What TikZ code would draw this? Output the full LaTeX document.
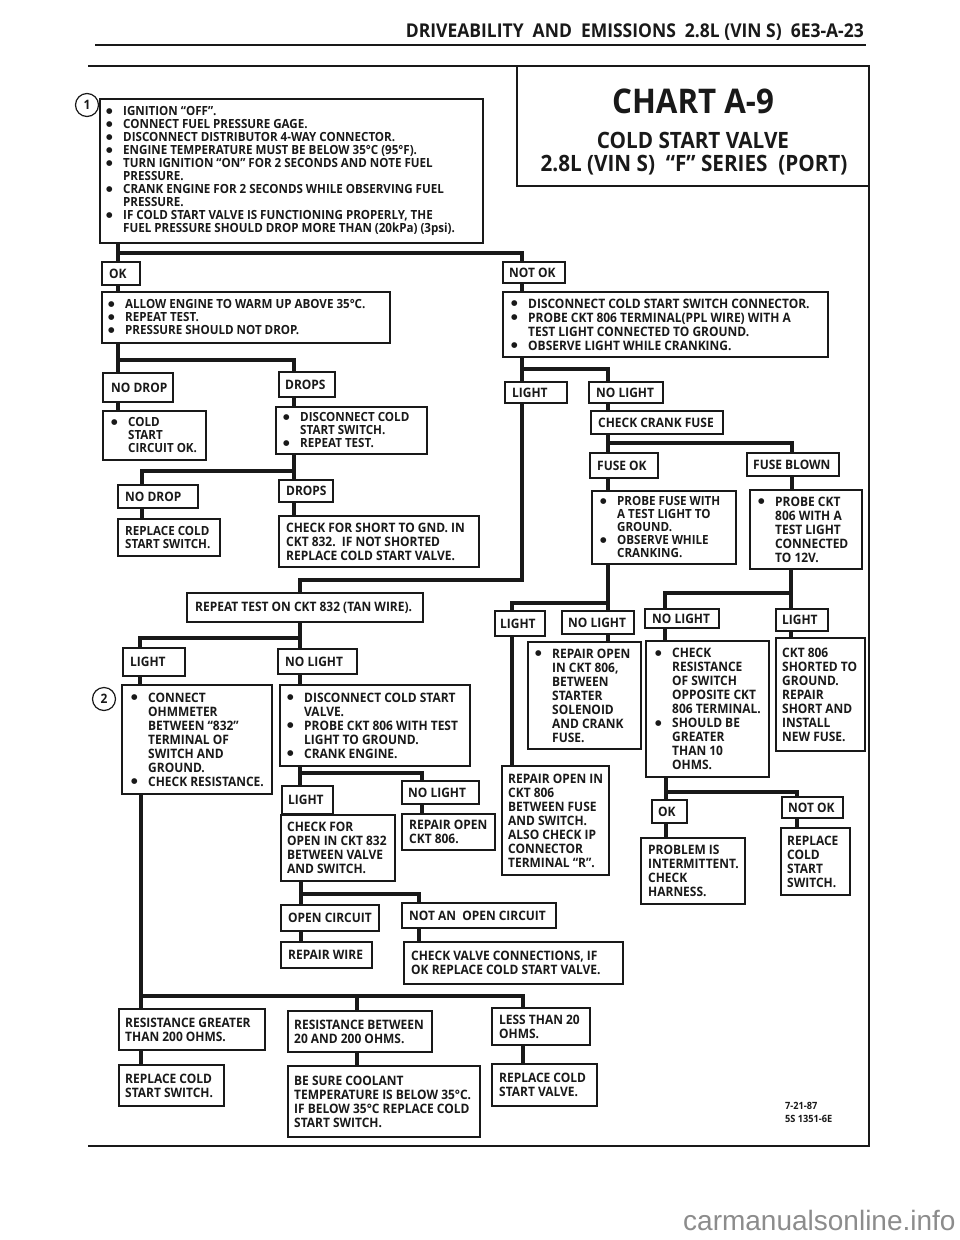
\documentclass[tikz,border=0pt]{standalone}
\usepackage{fontspec}
\setmainfont{Open Sans}[FakeStretch=0.92]
\newfontfamily\wmfont{Liberation Sans}
\newfontfamily\dvfont{DejaVu Sans}
\definecolor{ink}{gray}{0.1}
\newcommand\bl{\makebox[17pt][l]{\raisebox{2.2pt}{\dvfont\fontsize{7.5}{8}\selectfont ●}}}
\newcommand\ct{\hspace*{17pt}}
\tikzset{
  box/.style={draw=ink,line width=1.3pt,rectangle,inner sep=0pt,outer sep=0pt},
  txt/.style={inner sep=0pt,align=left,text=ink,font=\fontsize{13}{14}\selectfont\bfseries},
  tight/.style={font=\fontsize{12.6}{13}\selectfont\bfseries},
  conn/.style={draw=ink,line width=3.4pt,line join=miter},
  frame/.style={draw=ink,line width=2pt},
  circ/.style={draw=ink,circle,line width=1.2pt,minimum size=23pt,inner sep=0pt,text=ink,font=\fontsize{13}{14}\selectfont\bfseries}
}
% [style]{name}{x1}{y1}{x2}{y2}{pad}{text}
\newcommand\BX[8][]{%
  \node[box,minimum width={#5-#3},minimum height={#6-#4}] (#2) at ({(#3+#5)/2},{(#4+#6)/2}) {};
  \node[txt,#1,anchor=west] (#2-t) at ([xshift=#7pt]#2.west) {#8};}
\newcommand\cV[3]{\draw[conn] (#1.south -| #3,0) -- (#2.north -| #3,0);}
\newcommand\cB[5]{\draw[conn] (#1.south -| #2,0) |- (#5,#3) -- (#4.north -| #5,0);}
\begin{document}
\begin{tikzpicture}[x=1pt,y=-1pt]
\useasboundingbox (0,0) rectangle (960,1240);
\fill[white] (0,0) rectangle (960,1240);

% header
\node[anchor=base east,inner sep=0pt,text=ink,font=\fontsize{19}{20}\selectfont\bfseries] (hdr) at (864,37)
  {DRIVEABILITY\ \ AND\ \ EMISSIONS\ \ 2.8L (VIN S)\ \ 6E3-A-23};
\draw[ink,line width=2pt] (95,45) -- (866,45);

% frame and title box
\draw[frame] (88,66) -- (869,66) -- (869,1146) -- (88,1146);
\draw[frame] (517,66) -- (517,186) -- (869,186);
\node[inner sep=0pt,text=ink,font=\fontsize{34}{36}\selectfont\bfseries] (t1) at (693,101) {CHART A-9};
\node[inner sep=0pt,text=ink,font=\fontsize{22.5}{24}\selectfont\bfseries] (t2) at (693,140) {COLD START VALVE};
\node[inner sep=0pt,text=ink,font=\fontsize{22.5}{24}\selectfont\bfseries] (t3) at (694,165) {2.8L (VIN S)\ \ “F” SERIES\ \ (PORT)};

% circles
\node[circ] (c1) at (87,105) {1};
\node[circ] (c2) at (104,699) {2};

% boxes
\BX[tight]{box1}{100}{99}{483}{243}{6}{\bl IGNITION “OFF”.\\\bl CONNECT FUEL PRESSURE GAGE.\\\bl DISCONNECT DISTRIBUTOR 4-WAY CONNECTOR.\\\bl ENGINE TEMPERATURE MUST BE BELOW 35°C (95°F).\\\bl TURN IGNITION “ON” FOR 2 SECONDS AND NOTE FUEL\\\ct PRESSURE.\\\bl CRANK ENGINE FOR 2 SECONDS WHILE OBSERVING FUEL\\\ct PRESSURE.\\\bl IF COLD START VALVE IS FUNCTIONING PROPERLY, THE\\\ct FUEL PRESSURE SHOULD DROP MORE THAN (20kPa) (3psi).}
\BX{ok}{102}{262}{140}{285}{7}{OK}
\BX{notok}{503}{262}{565}{283}{6}{NOT OK}
\BX[tight]{allow}{102}{292}{390}{343}{6}{\bl ALLOW ENGINE TO WARM UP ABOVE 35°C.\\\bl REPEAT TEST.\\\bl PRESSURE SHOULD NOT DROP.}
\BX{disc1}{503}{292}{828}{357}{8}{\bl DISCONNECT COLD START SWITCH CONNECTOR.\\\bl PROBE CKT 806 TERMINAL(PPL WIRE) WITH A\\\ct TEST LIGHT CONNECTED TO GROUND.\\\bl OBSERVE LIGHT WHILE CRANKING.}
\BX{nodrop1}{103}{373}{173}{402}{8}{NO DROP}
\BX{drops1}{279}{372}{335}{397}{6}{DROPS}
\BX[tight]{coldok}{103}{411}{206}{460}{8}{\bl COLD\\\ct START\\\ct CIRCUIT OK.}
\BX[tight]{disc2}{276}{407}{427}{454}{7}{\bl DISCONNECT COLD\\\ct START SWITCH.\\\bl REPEAT TEST.}
\BX{nodrop2}{118}{485}{198}{508}{7}{NO DROP}
\BX{drops2}{279}{480}{333}{502}{7}{DROPS}
\BX[tight]{replsw1}{118}{519}{220}{556}{7}{REPLACE COLD\\START SWITCH.}
\BX{short}{279}{516}{479}{567}{7}{CHECK FOR SHORT TO GND. IN\\CKT 832.\ \ IF NOT SHORTED\\REPLACE COLD START VALVE.}
\BX{light1}{505}{382}{567}{403}{7}{LIGHT}
\BX{nolight1}{589}{382}{663}{403}{7}{NO LIGHT}
\BX{crank}{591}{411}{723}{434}{7}{CHECK CRANK FUSE}
\BX{fuseok}{590}{453}{658}{478}{7}{FUSE OK}
\BX{fuseblown}{747}{453}{839}{476}{6}{FUSE BLOWN}
\BX[tight]{probefuse}{592}{491}{736}{564}{8}{\bl PROBE FUSE WITH\\\ct A TEST LIGHT TO\\\ct GROUND.\\\bl OBSERVE WHILE\\\ct CRANKING.}
\BX{probeckt}{750}{490}{862}{569}{8}{\bl PROBE CKT\\\ct 806 WITH A\\\ct TEST LIGHT\\\ct CONNECTED\\\ct TO 12V.}
\BX{repeat}{187}{593}{423}{622}{8}{REPEAT TEST ON CKT 832 (TAN WIRE).}
\BX{light2}{495}{611}{545}{636}{5}{LIGHT}
\BX{nolight2}{562}{611}{634}{634}{6}{NO LIGHT}
\BX{nolight3}{645}{609}{719}{628}{7}{NO LIGHT}
\BX{light3}{776}{609}{828}{631}{6}{LIGHT}
\BX{repairopen}{528}{642}{641}{749}{7}{\bl REPAIR OPEN\\\ct IN CKT 806,\\\ct BETWEEN\\\ct STARTER\\\ct SOLENOID\\\ct AND CRANK\\\ct FUSE.}
\BX{checkres}{646}{641}{769}{777}{9}{\bl CHECK\\\ct RESISTANCE\\\ct OF SWITCH\\\ct OPPOSITE CKT\\\ct 806 TERMINAL.\\\bl SHOULD BE\\\ct GREATER\\\ct THAN 10\\\ct OHMS.}
\BX{ckt806}{776}{638}{865}{751}{6}{CKT 806\\SHORTED TO\\GROUND.\\REPAIR\\SHORT AND\\INSTALL\\NEW FUSE.}
\BX{repairopenin}{502}{766}{609}{875}{6}{REPAIR OPEN IN\\CKT 806\\BETWEEN FUSE\\AND SWITCH.\\ALSO CHECK IP\\CONNECTOR\\TERMINAL “R”.}
\BX{ok2}{652}{800}{687}{823}{6}{OK}
\BX{notok2}{782}{797}{843}{818}{6}{NOT OK}
\BX{problem}{641}{838}{745}{904}{7}{PROBLEM IS\\INTERMITTENT.\\CHECK\\HARNESS.}
\BX{replsw2}{781}{828}{850}{895}{6}{REPLACE\\COLD\\START\\SWITCH.}
\BX{light4}{123}{648}{185}{676}{7}{LIGHT}
\BX{nolight4}{278}{649}{357}{674}{7}{NO LIGHT}
\BX{connect}{122}{685}{272}{794}{9}{\bl CONNECT\\\ct OHMMETER\\\ct BETWEEN “832”\\\ct TERMINAL OF\\\ct SWITCH AND\\\ct GROUND.\\\bl CHECK RESISTANCE.}
\BX{disc3}{280}{685}{470}{766}{7}{\bl DISCONNECT COLD START\\\ct VALVE.\\\bl PROBE CKT 806 WITH TEST\\\ct LIGHT TO GROUND.\\\bl CRANK ENGINE.}
\BX{light5}{282}{786}{333}{814}{6}{LIGHT}
\BX{nolight5}{402}{781}{479}{804}{6}{NO LIGHT}
\BX{checkopen}{281}{815}{395}{881}{6}{CHECK FOR\\OPEN IN CKT 832\\BETWEEN VALVE\\AND SWITCH.}
\BX{repairckt}{402}{814}{495}{850}{7}{REPAIR OPEN\\CKT 806.}
\BX{opencircuit}{281}{905}{379}{931}{7}{OPEN CIRCUIT}
\BX{notopen}{402}{903}{556}{928}{7}{NOT AN\ \ OPEN CIRCUIT}
\BX{repairwire}{281}{942}{372}{968}{7}{REPAIR WIRE}
\BX{checkvalve}{404}{942}{623}{984}{7}{CHECK VALVE CONNECTIONS, IF\\OK REPLACE COLD START VALVE.}
\BX{resgt}{119}{1009}{265}{1050}{6}{RESISTANCE GREATER\\THAN 200 OHMS.}
\BX{resbt}{288}{1011}{432}{1052}{6}{RESISTANCE BETWEEN\\20 AND 200 OHMS.}
\BX{reslt}{492}{1008}{590}{1045}{7}{LESS THAN 20\\OHMS.}
\BX{replsw3}{119}{1065}{224}{1106}{6}{REPLACE COLD\\START SWITCH.}
\BX{besure}{288}{1066}{480}{1137}{6}{BE SURE COOLANT\\TEMPERATURE IS BELOW 35°C.\\IF BELOW 35°C REPLACE COLD\\START SWITCH.}
\BX{replvalve}{492}{1064}{597}{1106}{7}{REPLACE COLD\\START VALVE.}

% connectors
\cV{box1}{ok}{118}
\cB{box1}{118}{253}{notok}{522}
\cV{ok}{allow}{118}
\cV{notok}{disc1}{522}
\cV{allow}{nodrop1}{118}
\cB{allow}{118}{360}{drops1}{294}
\cV{nodrop1}{coldok}{118}
\cV{drops1}{disc2}{294}
\cV{disc2}{drops2}{294}
\cB{disc2}{294}{471}{nodrop2}{142}
\cV{nodrop2}{replsw1}{142}
\cV{drops2}{short}{294}
\cV{disc1}{light1}{522}
\cB{disc1}{522}{369}{nolight1}{608}
\cB{light1}{522}{580}{repeat}{300}
\cV{nolight1}{crank}{608}
\cV{crank}{fuseok}{608}
\cB{crank}{608}{443}{fuseblown}{792}
\cV{fuseok}{probefuse}{608}
\cV{fuseblown}{probeckt}{792}
\cV{probefuse}{nolight2}{608}
\cB{probefuse}{608}{603}{light2}{512}
\cV{probeckt}{light3}{791}
\cB{probeckt}{791}{593}{nolight3}{665}
\cV{light2}{repairopenin}{512}
\cV{nolight2}{repairopen}{608}
\cV{nolight3}{checkres}{665}
\cV{light3}{ckt806}{791}
\cV{checkres}{ok2}{666}
\cB{checkres}{666}{792}{notok2}{797}
\cV{ok2}{problem}{666}
\cV{notok2}{replsw2}{797}
\cV{repeat}{nolight4}{300}
\cB{repeat}{300}{638}{light4}{140}
\cV{light4}{connect}{140}
\cV{nolight4}{disc3}{300}
\cV{connect}{resgt}{141}
\cB{connect}{141}{996}{resbt}{357}
\cB{connect}{141}{996}{reslt}{523}
\cV{disc3}{light5}{300}
\cB{disc3}{300}{773}{nolight5}{422}
\cV{light5}{checkopen}{300}
\cV{nolight5}{repairckt}{422}
\cV{checkopen}{opencircuit}{301}
\cB{checkopen}{301}{894}{notopen}{419}
\cV{opencircuit}{repairwire}{301}
\cV{notopen}{checkvalve}{419}
\cV{resgt}{replsw3}{141}
\cV{resbt}{besure}{357}
\cV{reslt}{replvalve}{523}

% footer
\node[anchor=north west,inner sep=0pt,align=left,text=ink,font=\fontsize{10}{13}\selectfont\bfseries] (foot) at (785,1102) {7-21-87\\5S 1351-6E};
\node[anchor=base west,inner sep=0pt,text=black!45,font=\wmfont\fontsize{28}{30}\selectfont] (wm) at (683,1230) {carmanualsonline.info};
\end{tikzpicture}
\end{document}
